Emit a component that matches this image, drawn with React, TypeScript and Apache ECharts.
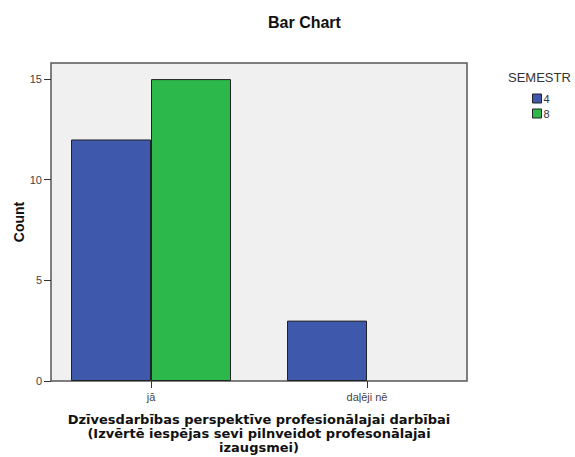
import React, { useEffect, useRef } from "react";
import * as echarts from "echarts";

const categories = ["jā", "daļēji nē"];
const seriesNames = ["4", "8"];
const semester4 = [12, 3];
const semester8: (number | null)[] = [15, null];
const yTicks = [0, 5, 10, 15];
const yMax = 15.8;
const chartTitle = "Bar Chart";
const legendTitle = "SEMESTR";
const yName = "Count";
const xName =
  "Dzīvesdarbības perspektīve profesionālajai darbībai\n(Izvērtē iespējas sevi pilnveidot profesonālajai\nizaugsmei)";

const COLORS = ["#3E58AC", "#2DB84B"];

export default function App() {
  const ref = useRef<HTMLDivElement>(null);
  useEffect(() => {
    if (!ref.current) return;
    const chart = echarts.init(ref.current, undefined, { renderer: "svg" });
    chart.setOption({
      animation: false,
      backgroundColor: "#FFFFFF",
      textStyle: { fontFamily: "'Liberation Sans', Arial, sans-serif" },
      title: [
        {
          text: chartTitle,
          left: 268,
          top: 14,
          padding: 0,
          textStyle: { fontSize: 16, fontWeight: "bold", color: "#111" },
        },
        {
          text: legendTitle,
          left: 508,
          top: 71,
          padding: 0,
          textStyle: { fontSize: 13, fontWeight: "normal", color: "#333" },
        },
      ],
      legend: {
        data: seriesNames,
        orient: "vertical",
        left: 532,
        top: 93,
        padding: 0,
        itemWidth: 9,
        itemHeight: 9,
        itemGap: 4,
        icon: "rect",
        itemStyle: { borderColor: "#222", borderWidth: 1 },
        textStyle: { fontSize: 11, color: "#333", padding: [0, 0, 0, -3] },
      },
      grid: [
        {
          left: 51,
          top: 63,
          width: 416,
          height: 318,
          show: true,
          backgroundColor: "#F0F0F0",
          borderColor: "#555",
          borderWidth: 1.5,
          containLabel: false,
          outerBoundsMode: "none",
        },
        {
          left: 43,
          top: 63,
          width: 432,
          height: 318,
          containLabel: false,
          outerBoundsMode: "none",
        },
      ],
      xAxis: [
        { gridIndex: 0, type: "category", data: categories, show: false },
        {
          gridIndex: 1,
          type: "category",
          data: categories,
          axisLine: { show: false },
          axisTick: {
            show: true,
            alignWithLabel: true,
            length: 7,
            lineStyle: { color: "#333", width: 1 },
          },
          axisLabel: { fontSize: 11, color: "#444", margin: 10 },
          splitLine: { show: false },
          name: xName,
          nameLocation: "middle",
          nameGap: 31,
          nameMoveOverlap: false,
          nameTextStyle: {
            fontFamily: "'DejaVu Sans', Verdana, sans-serif",
            fontWeight: "bold",
            fontSize: 13,
            lineHeight: 14,
            color: "#111",
          },
        },
      ],
      yAxis: [
        {
          gridIndex: 0,
          type: "value",
          min: 0,
          max: yMax,
          axisLine: { show: false },
          axisTick: {
            show: true,
            length: 7,
            customValues: yTicks,
            lineStyle: { color: "#333", width: 1 },
          },
          axisLabel: {
            fontSize: 11,
            color: "#444",
            margin: 9,
            customValues: yTicks,
          },
          splitLine: { show: false },
          name: yName,
          nameLocation: "middle",
          nameGap: 25,
          nameMoveOverlap: false,
          nameRotate: 90,
          nameTextStyle: { fontSize: 14, fontWeight: "bold", color: "#111" },
        },
        { gridIndex: 1, type: "value", min: 0, max: yMax, show: false },
      ],
      series: [
        {
          name: seriesNames[0],
          type: "bar",
          xAxisIndex: 1,
          yAxisIndex: 1,
          data: semester4,
          barWidth: 80,
          barGap: "0%",
          itemStyle: { color: COLORS[0], borderColor: "#222", borderWidth: 1 },
        },
        {
          name: seriesNames[1],
          type: "bar",
          xAxisIndex: 1,
          yAxisIndex: 1,
          data: semester8,
          barWidth: 80,
          barGap: "0%",
          itemStyle: { color: COLORS[1], borderColor: "#222", borderWidth: 1 },
        },
      ],
    });
    return () => chart.dispose();
  }, []);
  return (
    <div
      ref={ref}
      style={{ position: "fixed", left: 0, top: 0, width: 575, height: 457 }}
    />
  );
}
